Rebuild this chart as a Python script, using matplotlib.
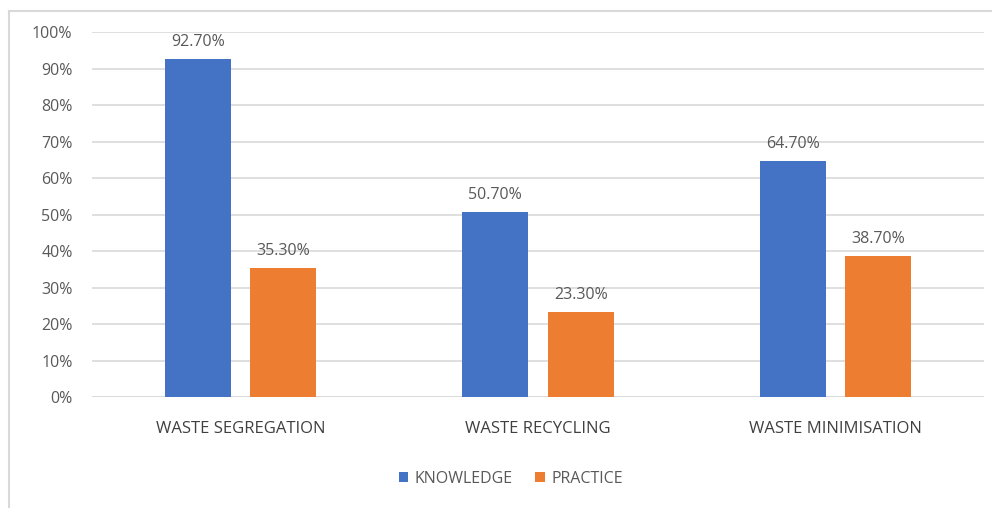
import numpy as np
import matplotlib.pyplot as plt
from matplotlib.lines import Line2D

categories = ['WASTE SEGREGATION', 'WASTE RECYCLING', 'WASTE MINIMISATION']
knowledge = [92.7, 50.7, 64.7]
practice = [35.3, 23.3, 38.7]

blue = '#4472C4'
orange = '#ED7D31'
grey_text = '#595959'

plt.rcParams['font.family'] = ['Open Sans', 'DejaVu Sans']

fig = plt.figure(figsize=[9.92, 5.08], dpi=100)
ax = fig.add_axes([0.0927, 0.2185, 0.8993, 0.7185])

x = np.arange(len(categories))
w = 0.222
off = 0.144
b1 = ax.bar(x - off, knowledge, w, color=blue, label='KNOWLEDGE', zorder=3)
b2 = ax.bar(x + off, practice, w, color=orange, label='PRACTICE', zorder=3)

for bars, vals in [(b1, knowledge), (b2, practice)]:
    for bar, v in zip(bars, vals):
        ax.annotate(f'{v:.2f}%', (bar.get_x() + bar.get_width() / 2, v),
                    xytext=(0, 6.5), textcoords='offset points',
                    ha='center', va='bottom', fontsize=11.5, color=grey_text)

ax.set_xlim(-0.5, 2.5)
ax.set_ylim(0, 100)
ax.set_yticks(np.arange(0, 101, 10))
ax.set_yticklabels([f'{t}%' for t in range(0, 101, 10)])
ax.set_xticks(x)
ax.set_xticklabels(categories)
ax.tick_params(axis='y', length=0, pad=14, labelsize=11.5, labelcolor=grey_text)
ax.tick_params(axis='x', length=0, pad=17, labelsize=12, labelcolor='#404040')
ax.grid(axis='y', color='#d9d9d9', linewidth=1.2, zorder=0)
for s in ax.spines.values():
    s.set_visible(False)
ax.axhline(0, color='#d9d9d9', linewidth=1.2, zorder=1)

ax.legend(loc='center', bbox_to_anchor=(0.515, 0.0575), bbox_transform=fig.transFigure,
          ncol=2, frameon=False, fontsize=11.5, labelcolor=grey_text,
          handlelength=0.6, handleheight=0.6, handletextpad=0.4, columnspacing=1.4)

# outer chart frame
fig.add_artist(Line2D([9 / 992, 9 / 992], [0, 1 - 11 / 508], color='#d9d9d9', linewidth=1.5))
fig.add_artist(Line2D([9 / 992, 1], [1 - 11 / 508, 1 - 11 / 508], color='#d9d9d9', linewidth=1.5))

plt.savefig('out.png', dpi=100)
